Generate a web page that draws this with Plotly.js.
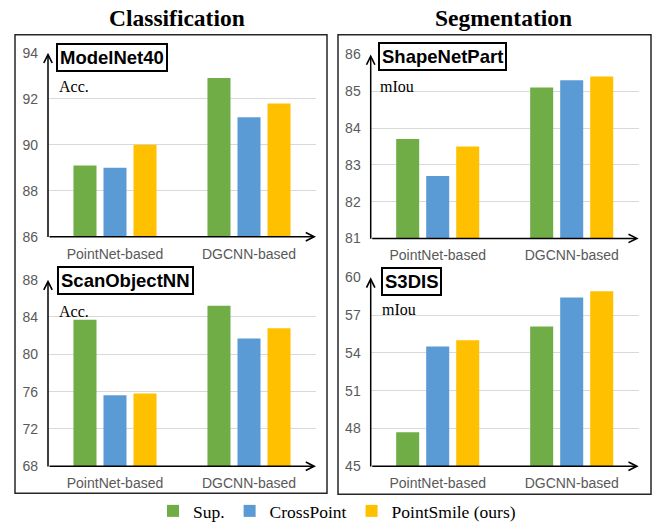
<!DOCTYPE html>
<html>
<head>
<meta charset="utf-8">
<script src="https://cdn.plot.ly/plotly-3.0.1.min.js"></script>
<style>html,body{margin:0;padding:0;background:#fff;}#chart{width:659px;height:529px;}</style>
</head>
<body>
<div id="chart"></div>
<script>
// ---- data ----
const categories = ['PointNet-based', 'DGCNN-based'];
const seriesNames = ['Sup.', 'CrossPoint', 'PointSmile (ours)'];
const seriesColors = ['#70AD47', '#5B9BD5', '#FFC000'];

const modelnetSup = [89.1, 92.9];
const modelnetCross = [89.0, 91.2];
const modelnetSmile = [90.0, 91.8];

const shapenetSup = [83.7, 85.1];
const shapenetCross = [82.7, 85.3];
const shapenetSmile = [83.5, 85.4];

const scanobjSup = [83.7, 85.2];
const scanobjCross = [75.6, 81.7];
const scanobjSmile = [75.8, 82.8];

const s3disSup = [47.7, 56.1];
const s3disCross = [54.5, 58.4];
const s3disSmile = [55.0, 58.9];

const panelNames = ['ModelNet40', 'ShapeNetPart', 'ScanObjectNN', 'S3DIS'];
const metricNames = ['Acc.', 'mIou', 'Acc.', 'mIou'];
const yRanges = [[86, 94], [81, 86], [68, 88], [45, 60]];
const yDticks = [2, 1, 4, 3];
const columnTitles = ['Classification', 'Segmentation'];

// ---- layout helpers ----
const W = 659, H = 529;
const px = v => v / W;
const py = v => 1 - v / H;

const panelData = [
  [modelnetSup, modelnetCross, modelnetSmile],
  [shapenetSup, shapenetCross, shapenetSmile],
  [scanobjSup, scanobjCross, scanobjSmile],
  [s3disSup, s3disCross, s3disSmile]
];
// pixel boxes of plot areas: [left, right, top, bottom]
const boxes = [
  [48, 316, 53.3, 239],
  [370.7, 638.7, 55, 240.7],
  [48, 316, 282.3, 470.7],
  [370.7, 638.7, 280, 470.7]
];
const labelPos = [[56, 43], [378, 42.7], [57, 269], [381, 270]];
const metricPos = [[57, 87], [378, 87], [57, 314], [380, 312.7]];

const traces = [];
const layout = {
  width: W, height: H,
  margin: {l: 0, r: 0, t: 0, b: 0},
  paper_bgcolor: '#ffffff',
  plot_bgcolor: 'rgba(0,0,0,0)',
  barmode: 'group',
  bargap: 0.328,
  bargroupgap: 0.233,
  showlegend: true,
  legend: {
    orientation: 'h',
    x: px(153), xanchor: 'left',
    y: py(516), yanchor: 'middle',
    font: {family: 'Liberation Serif, Times New Roman, serif', size: 17.5, color: '#000'},
    bgcolor: 'rgba(0,0,0,0)'
  },
  annotations: [],
  shapes: []
};

panelData.forEach((series, p) => {
  const sfx = p === 0 ? '' : String(p + 1);
  series.forEach((vals, s) => {
    traces.push({
      type: 'bar',
      x: categories,
      y: vals,
      name: seriesNames[s],
      legendgroup: seriesNames[s],
      showlegend: p === 0,
      marker: {color: seriesColors[s], line: {width: 0}},
      xaxis: 'x' + sfx,
      yaxis: 'y' + sfx,
      hoverinfo: 'skip'
    });
  });
  const b = boxes[p];
  layout['xaxis' + sfx] = {
    domain: [px(b[0]), px(b[1])],
    anchor: 'y' + sfx,
    type: 'category',
    showgrid: false, showline: false, zeroline: false,
    ticks: '',
    ticklabelstandoff: 7,
    tickfont: {family: 'Liberation Sans, Arial, sans-serif', size: 14, color: '#595959'},
    fixedrange: true
  };
  layout['yaxis' + sfx] = {
    domain: [py(b[3]), py(b[2])],
    anchor: 'x' + sfx,
    range: yRanges[p],
    dtick: yDticks[p],
    tick0: yRanges[p][0],
    showgrid: true, gridcolor: '#d9d9d9', gridwidth: 1,
    showline: false, zeroline: false,
    ticks: '',
    ticklabelstandoff: 9,
    tickfont: {family: 'Liberation Sans, Arial, sans-serif', size: 14, color: '#595959'},
    fixedrange: true
  };
  const xd = 'x' + sfx + ' domain', yd = 'y' + sfx + ' domain';
  // y-axis arrow
  layout.annotations.push({
    xref: xd, yref: yd, x: 0, y: 1, ax: 0, ay: b[3] - b[2],
    axref: 'pixel', ayref: 'pixel',
    text: '', showarrow: true, arrowhead: 5, arrowsize: 1.1, arrowwidth: 1.5,
    arrowcolor: '#000', standoff: 0
  });
  // x-axis arrow
  layout.annotations.push({
    xref: xd, yref: yd, x: 1, y: 0, ax: -(b[1] - b[0]), ay: 0,
    axref: 'pixel', ayref: 'pixel',
    text: '', showarrow: true, arrowhead: 5, arrowsize: 1.1, arrowwidth: 1.5,
    arrowcolor: '#000', standoff: 0
  });
  // dataset label box
  layout.annotations.push({
    xref: 'paper', yref: 'paper',
    x: px(labelPos[p][0]), y: py(labelPos[p][1]),
    xanchor: 'left', yanchor: 'top',
    text: '<b>' + panelNames[p] + '</b>', showarrow: false,
    font: {family: 'Liberation Sans, Arial, sans-serif', size: 18.5, color: '#000'},
    bordercolor: '#000', borderwidth: 2, borderpad: 2, bgcolor: '#fff'
  });
  // metric label
  layout.annotations.push({
    xref: 'paper', yref: 'paper',
    x: px(metricPos[p][0]), y: py(metricPos[p][1]),
    xanchor: 'left', yanchor: 'middle',
    text: metricNames[p], showarrow: false,
    font: {family: 'Liberation Serif, Times New Roman, serif', size: 16, color: '#000'}
  });
});

// column titles
[[177, 18], [503, 18]].forEach((pos, i) => {
  layout.annotations.push({
    xref: 'paper', yref: 'paper', x: px(pos[0]), y: py(pos[1]),
    xanchor: 'center', yanchor: 'middle',
    text: '<b>' + columnTitles[i] + '</b>', showarrow: false,
    font: {family: 'Liberation Serif, Times New Roman, serif', size: 23.5, color: '#000'}
  });
});

// outer boxes
[[15, 327, 35, 498], [338, 651, 35, 499]].forEach(r => {
  layout.shapes.push({
    type: 'rect', xref: 'paper', yref: 'paper',
    x0: px(r[0]), x1: px(r[1]), y0: py(r[3]), y1: py(r[2]),
    line: {color: '#262626', width: 1.5}, fillcolor: 'rgba(0,0,0,0)'
  });
});

Plotly.newPlot('chart', traces, layout, {displayModeBar: false, staticPlot: true});
</script>
</body>
</html>
